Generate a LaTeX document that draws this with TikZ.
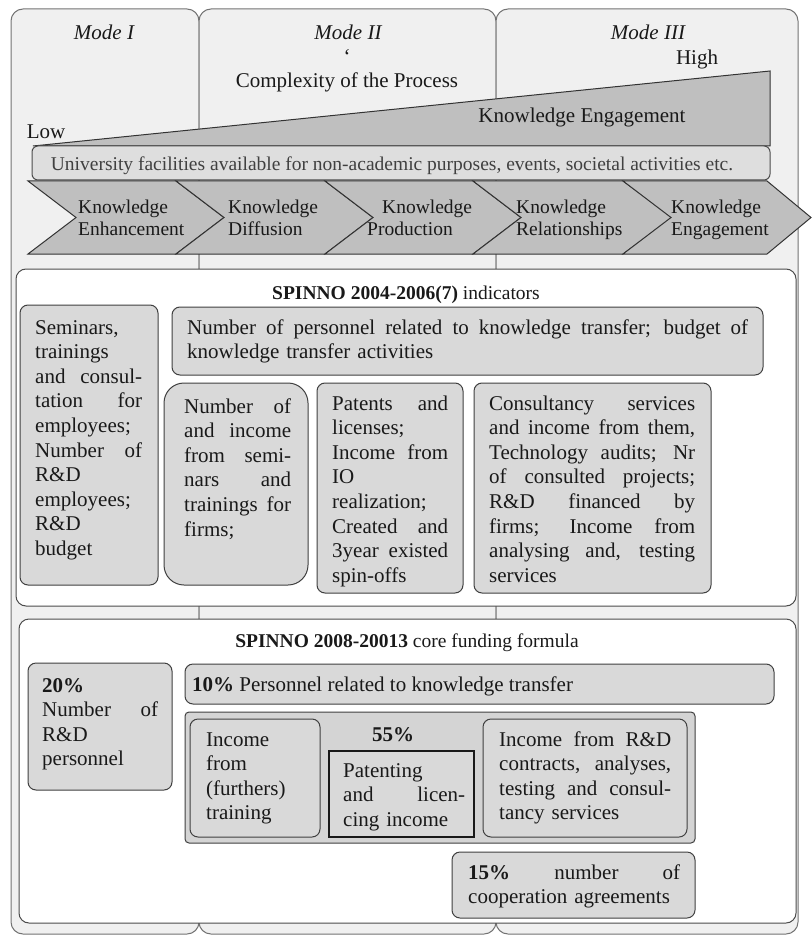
\documentclass[tikz,border=0pt]{standalone}
\usepackage{fontspec}
\setmainfont{Liberation Serif}
\usetikzlibrary{positioning}

\newcommand{\bodyfont}{\fontsize{21}{24.6}\selectfont}
\newcommand{\ttlfont}{\fontsize{19.5}{22}\selectfont}
\newcommand{\jw}{100pt}
\newcommand{\jl}[1]{\leavevmode\hbox to \jw{\spaceskip=0.25em plus 1fil\relax #1}}

\tikzset{
  modecol/.style={draw=black!55, fill=black!6, line width=1pt, rounded corners=12pt},
  panel/.style={draw=black!70, fill=white, line width=1pt, rounded corners=10pt},
  ibox/.style={draw=black!75, fill=black!15, line width=1pt, rounded corners=8pt},
  wedge/.style={draw=black!80, fill=black!25, line width=1pt},
  ubar/.style={draw=black!70, fill=black!13, line width=1pt, rounded corners=6pt},
  chev/.style={draw=black!80, fill=black!25, line width=1pt},
  btxt/.style={inner sep=0pt, anchor=base west, align=left, font=\bodyfont, text=black!90},
  tw/.style={text width=#1, /utils/exec={\renewcommand{\jw}{#1}}},
  chevtxt/.style={inner sep=0pt, anchor=base west, align=left, font=\ttlfont, text=black!90, text width=150pt},
  ttl/.style={inner sep=0pt, anchor=base, font=\ttlfont, text=black!90},
  lbl/.style={inner sep=0pt, anchor=base, font=\bodyfont, text=black!90}
}

\begin{document}
\begin{tikzpicture}[x=1pt,y=-1pt]
        \useasboundingbox (0,0) rectangle (811,936);
        % mode columns
        \draw[modecol] (11,9) rectangle (199,934);
        \draw[modecol] (199,9) rectangle (496,934);
        \draw[modecol] (496,9) rectangle (798,934);
        \node[lbl, font=\bodyfont\itshape] (mode1) at (104,40) {Mode I};
        \node[lbl, font=\bodyfont\itshape] (mode2) at (348,40) {Mode II};
        \node[lbl, font=\bodyfont\itshape] (mode3) at (648,40) {Mode III};
        \node[lbl] (tick) at (347,64) {`};
        \node[lbl] (high) at (697,65) {High};
        \node[lbl] (cplx) at (347,88) {Complexity of the Process};
        % engagement wedge and facilities bar
        \draw[wedge] (33,146) -- (770,71) -- (770,146) -- cycle;
        \node[lbl] (keng) at (582,123) {Knowledge Engagement};
        \node[lbl] (low) at (46,139) {Low};
        \draw[ubar] (32,146) rectangle (770,180);
        \node[ttl, text=black!75] (unifac) at (392,171) {University facilities available for non-academic purposes, events, societal activities etc.};
        % chevrons
        \foreach \a/\b/\d in {28/176/48, 176/325/48, 325/473/48, 473/623/50, 623/767/44}
          \draw[chev] (\a,181) -- (\b,181) -- (\b+\d,217.5) -- (\b,254) -- (\a,254) -- (\a+48,217.5) -- cycle;
        \node[chevtxt] (ch1) at (78,213) {Knowledge\\Enhancement};
        \node[chevtxt] (ch2) at (228,213) {Knowledge\\Diffusion};
        \node[chevtxt] (ch3) at (367,213) {\hspace*{15pt}Knowledge\\Production};
        \node[chevtxt] (ch4) at (516,213) {Knowledge\\Relationships};
        \node[chevtxt] (ch5) at (671,213) {Knowledge\\Engagement};
        % SPINNO 2004-2006(7)
        \draw[panel] (16,269) rectangle (796,606);
        \node[ttl] (ttlA) at (406,299) {\textbf{SPINNO 2004-2006(7)} indicators};
        \draw[ibox] (20,305) rectangle (158,585);
        \node[btxt, tw=107pt] (sem) at (35,334) {Seminars,\\ trainings\\ \jl{and consul-}\\ \jl{tation for}\\ employees;\\ \jl{Number of}\\ R\&D\\ employees;\\ R\&D\\ budget};
        \draw[ibox] (172,307) rectangle (763,375);
        \node[btxt, tw=561pt] (pers) at (187,334) {\jl{Number of personnel related to knowledge transfer; budget of}\\ knowledge transfer activities};
        \draw[ibox, rounded corners=20pt] (164,383) rectangle (308,585);
        \node[btxt, tw=107pt] (semi) at (184,413) {\jl{Number of}\\ \jl{and income}\\ \jl{from semi-}\\ \jl{nars and}\\ \jl{trainings for}\\ firms;};
        \draw[ibox] (317,383) rectangle (463,593);
        \node[btxt, tw=116pt] (pat) at (332,410) {\jl{Patents and}\\ licenses;\\ \jl{Income from}\\ IO\\ realization;\\ \jl{Created and}\\ \jl{3year existed}\\ spin-offs};
        \draw[ibox] (474,383) rectangle (711,593);
        \node[btxt, tw=206pt] (cons) at (489,410) {\jl{Consultancy services}\\ \jl{and income from them,}\\ \jl{Technology audits; Nr}\\ \jl{of consulted projects;}\\ \jl{R\&D financed by}\\ \jl{firms; Income from}\\ \jl{analysing and, testing}\\ services};
        % SPINNO 2008-20013
        \draw[panel] (19,619) rectangle (796,923);
        \node[ttl] (ttlB) at (407,647) {\textbf{SPINNO 2008-20013} core funding formula};
        \draw[ibox] (28,663) rectangle (172,790);
        \node[btxt, tw=116pt] (p20) at (42,692) {\textbf{20\%}\\ \jl{Number of}\\ R\&D\\ personnel};
        \draw[ibox] (185,664) rectangle (774,704);
        \node[btxt] (p10) at (192,691) {\textbf{10\%} Personnel related to knowledge transfer};
        \draw[ibox, rounded corners=4pt, fill=black!17] (185,712) rectangle (695,843);
        \node[lbl, font=\bodyfont\bfseries] (p55) at (393,741) {55\%};
        \draw[ibox] (190,719) rectangle (320,837);
        \node[btxt, tw=100pt] (train) at (206,746) {Income\\ from\\ (furthers)\\ training};
        \draw[line width=1.6pt, draw=black!90, fill=black!15] (329,751) rectangle (474,837);
        \node[btxt, tw=122pt] (lic) at (343,777) {Patenting\\ \jl{and licen-}\\ cing income};
        \draw[ibox] (483,719) rectangle (687,837);
        \node[btxt, tw=172pt] (rnd) at (499,746) {\jl{Income from R\&D}\\ \jl{contracts, analyses,}\\ \jl{testing and consul-}\\ tancy services};
        \draw[ibox] (452,852) rectangle (695,918);
        \node[btxt, tw=212pt] (p15) at (468,879) {\jl{\textbf{15\%} number of}\\ cooperation agreements};
\end{tikzpicture}
\end{document}
